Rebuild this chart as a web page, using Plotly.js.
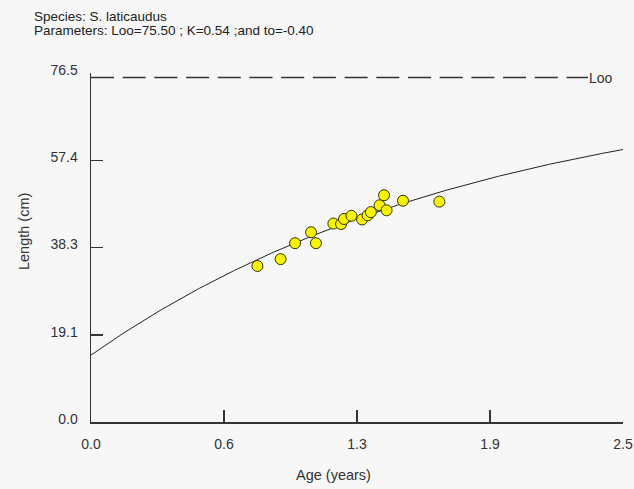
<!DOCTYPE html>
<html>
<head>
<meta charset="utf-8">
<script src="https://cdn.plot.ly/plotly-3.0.1.min.js"></script>
<style>
  html, body { margin: 0; padding: 0; background: #f7f7f7; }
  #chart { width: 634px; height: 489px; }
</style>
</head>
<body>
<div id="chart"></div>
<script>
// von Bertalanffy growth parameters for S. laticaudus
const Linf = 75.50;
const K = 0.54;
const t0 = -0.40;

// Observed length-at-age pairs
const ages = [0.782, 0.891, 0.959, 1.034, 1.057, 1.139, 1.175, 1.189, 1.224, 1.274,
              1.300, 1.315, 1.356, 1.377, 1.389, 1.466, 1.637];
const lengths = [34.2, 35.7, 39.2, 41.6, 39.2, 43.5, 43.4, 44.5, 45.2, 44.4,
                 45.3, 46.0, 47.5, 49.7, 46.4, 48.5, 48.3];

// Axis ticks
const xTickVals = [0, 0.625, 1.25, 1.875, 2.5];
const xTickText = ['0.0', '0.6', '1.3', '1.9', '2.5'];
const yTickVals = [0, 19.125, 38.25, 57.375, 76.5];
const yTickText = ['0.0', '19.1', '38.3', '57.4', '76.5'];

// Header lines
const speciesLine = 'Species: S. laticaudus';
const paramsLine = 'Parameters: Loo=75.50 ; K=0.54 ;and to=-0.40';

// Growth curve L(t) = Linf * (1 - exp(-K (t - t0))) over the age axis
const curveT = [];
const curveL = [];
for (let i = 0; i <= 250; i++) {
  const t = i * 0.01;
  curveT.push(t);
  curveL.push(Linf * (1 - Math.exp(-K * (t - t0))));
}

const axisColor = '#333333';
const family = 'Liberation Sans, Arial, sans-serif';
const tickFont = { family: family, size: 14, color: '#333333' };
const titleFont = { family: family, size: 14.5, color: '#333333' };
const headFont = { family: family, size: 13.5, color: '#222222' };

const traces = [
  {
    x: [0, 2.3355], y: [Linf, Linf],
    mode: 'lines', type: 'scatter',
    line: { color: '#333333', width: 1.5, dash: '23px,8.7px' },
    hoverinfo: 'skip'
  },
  {
    x: curveT, y: curveL,
    mode: 'lines', type: 'scatter',
    line: { color: '#222222', width: 1 },
    hoverinfo: 'skip'
  },
  {
    x: ages, y: lengths,
    mode: 'markers', type: 'scatter',
    marker: { size: 11, color: '#f8f400', line: { color: '#333300', width: 1 } }
  }
];

const layout = {
  width: 634, height: 489,
  paper_bgcolor: '#f7f7f7',
  plot_bgcolor: '#f7f7f7',
  showlegend: false,
  font: tickFont,
  margin: { l: 91, r: 11, t: 72.5, b: 66.5 },
  xaxis: {
    range: [0, 2.5],
    tickvals: xTickVals, ticktext: xTickText,
    ticks: 'inside', ticklen: 12, tickwidth: 1.5, tickcolor: axisColor,
    ticklabelstandoff: 9,
    showline: true, linecolor: axisColor, linewidth: 1.5,
    showgrid: false, zeroline: false,
    tickfont: tickFont
  },
  yaxis: {
    range: [0, 76.5],
    tickvals: yTickVals, ticktext: yTickText,
    ticks: 'inside', ticklen: 12, tickwidth: 1.5, tickcolor: axisColor,
    ticklabelstandoff: 9, ticklabelshift: -3,
    showline: true, linecolor: axisColor, linewidth: 1.5,
    showgrid: false, zeroline: false,
    tickfont: tickFont
  },
  annotations: [
    {
      text: speciesLine, xref: 'paper', yref: 'paper',
      x: (32 - 91) / 532, y: (422.5 - 16) / 350,
      xanchor: 'left', yanchor: 'middle', showarrow: false, font: headFont
    },
    {
      text: paramsLine, xref: 'paper', yref: 'paper',
      x: (32 - 91) / 532, y: (422.5 - 30) / 350,
      xanchor: 'left', yanchor: 'middle', showarrow: false, font: headFont
    },
    {
      text: 'Age (years)', xref: 'paper', yref: 'paper',
      x: (333.5 - 91) / 532, y: (422.5 - 476) / 350,
      xanchor: 'center', yanchor: 'middle', showarrow: false, font: titleFont
    },
    {
      text: 'Length (cm)', xref: 'paper', yref: 'paper',
      x: (24 - 91) / 532, y: (422.5 - 232) / 350,
      xanchor: 'center', yanchor: 'middle', textangle: -90,
      showarrow: false, font: titleFont
    },
    {
      x: 2.333, y: Linf, xref: 'x', yref: 'y',
      text: 'Loo', showarrow: false,
      xanchor: 'left', yanchor: 'middle',
      font: { family: family, size: 14, color: '#333333' }
    }
  ]
};

Plotly.newPlot('chart', traces, layout, { displayModeBar: false, staticPlot: true });
</script>
</body>
</html>
